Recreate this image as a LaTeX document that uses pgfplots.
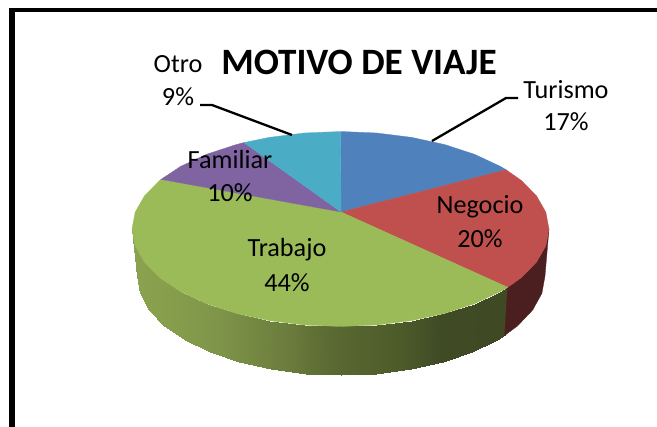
\documentclass[border=0pt]{standalone}
\usepackage{pgfplots}
\pgfplotsset{compat=1.18}
\usepackage{fontspec}
\setmainfont{Carlito}
\definecolor{tur}{HTML}{4F81BD}
\definecolor{neg}{HTML}{C0504D}
\definecolor{tra}{HTML}{9BBB59}
\definecolor{fam}{HTML}{8064A2}
\definecolor{otr}{HTML}{4BACC6}
\definecolor{negside}{HTML}{4B1F1F}
\tikzset{lab/.style={inner sep=0pt,font=\fontsize{26.2}{26.2}\selectfont}}
\begin{document}
\begin{tikzpicture}[x=1pt,y=1pt]
\path[use as bounding box] (0,0) rectangle (657,427);
\begin{axis}[
  at={(0,0)},anchor=south west,
  scale only axis,width=657pt,height=427pt,
  xmin=0,xmax=657,ymin=0,ymax=427,y dir=reverse,
  hide axis,clip=false,
  colormap={sidegreen}{rgb255(132)=(139,163,80) rgb255(180)=(133,156,76) rgb255(220)=(126,148,72) rgb255(290)=(106,123,60) rgb255(330)=(90,106,50) rgb255(400)=(77,91,42) rgb255(440)=(64,75,37) rgb255(508)=(63,74,37)},
  point meta min=132,point meta max=508,
]
% frame
\addplot[black,line width=5.7pt,no marks] coordinates {(12.2,8.3)(12.2,427)};
\addplot[black,line width=3.4pt,no marks] coordinates {(9.4,10)(657,10)};
% side of the green slice
\addplot[surf,shader=interp,mesh/rows=2,point meta=x] table {
x y
132 229
135.2 245.9
144.6 262.3
159.9 277.8
180.8 291.7
206.5 303.7
236.2 313.4
269.2 320.6
304.3 325.0
340.5 326.5
376.7 325.0
411.8 320.6
444.8 313.4
474.5 303.7
500.2 291.7
507.7 287.3
137 276
140.1 293.3
149.3 310.0
164.3 325.8
184.7 340.0
209.9 352.2
239 362.2
271.2 369.5
305.6 374.0
341 375.5
376.4 374.0
410.8 369.5
443 362.2
472.1 352.2
497.3 340.0
504.6 335.5
};
% side of the red slice
\addplot[fill=negside,draw=negside,line width=0.3pt,no marks] coordinates {(507.7,287.3)(521.1,277.8)(536.4,262.3)(545.8,245.9)(549,229)(545,276)(541.9,293.3)(532.7,310)(517.7,325.8)(504.6,335.5)} -- cycle;
% top faces
\addplot[fill=tur,draw=tur,line width=0.3pt,no marks] coordinates {(341,212)(340.5,131.5)(376.7,133.0)(411.8,137.4)(444.8,144.6)(474.5,154.3)(500.2,166.3)(506.1,169.8)} -- cycle;
\addplot[fill=neg,draw=neg,line width=0.3pt,no marks] coordinates {(341,212)(506.1,169.8)(521.1,180.3)(536.4,195.7)(545.8,212.1)(549,229)(545.8,245.9)(536.4,262.3)(521.1,277.8)(507.7,287.3)} -- cycle;
\addplot[fill=tra,draw=tra,line width=0.3pt,no marks] coordinates {(341,212)(507.7,287.3)(500.2,291.7)(474.5,303.7)(444.8,313.4)(411.8,320.6)(376.7,325.0)(340.5,326.5)(304.3,325.0)(269.2,320.6)(236.2,313.4)(206.5,303.7)(180.8,291.7)(159.9,277.8)(144.6,262.3)(135.2,245.9)(132,229)(135.2,212.1)(144.6,195.7)(159.9,180.3)(161.0,179.4)} -- cycle;
\addplot[fill=fam,draw=fam,line width=0.3pt,no marks] coordinates {(341,212)(161.0,179.4)(180.8,166.3)(206.5,154.3)(236.2,144.6)(243.9,142.6)} -- cycle;
\addplot[fill=otr,draw=otr,line width=0.3pt,no marks] coordinates {(341,212)(243.9,142.6)(269.2,137.4)(304.3,133.0)(340.5,131.5)} -- cycle;
% leader lines
\addplot[black,line width=2.3pt,no marks] coordinates {(432,141)(506,98)(518,98)};
\addplot[black,line width=2.3pt,no marks] coordinates {(200,105)(212,105)(292,135)};
% texts
\node[lab,font=\fontsize{37.2}{37.2}\selectfont\bfseries] at (axis cs:359,62) {MOTIVO DE VIAJE};
\node[lab] at (axis cs:178,64) {Otro};
\node[lab] at (axis cs:178,97) {9\%};
\node[lab] at (axis cs:566,90) {Turismo};
\node[lab] at (axis cs:566,122) {17\%};
\node[lab] at (axis cs:480,207) {Negocio};
\node[lab] at (axis cs:480,239) {20\%};
\node[lab] at (axis cs:230,160) {Familiar};
\node[lab] at (axis cs:230,193) {10\%};
\node[lab] at (axis cs:287,250) {Trabajo};
\node[lab] at (axis cs:287,283) {44\%};
\end{axis}
\end{tikzpicture}
\end{document}
